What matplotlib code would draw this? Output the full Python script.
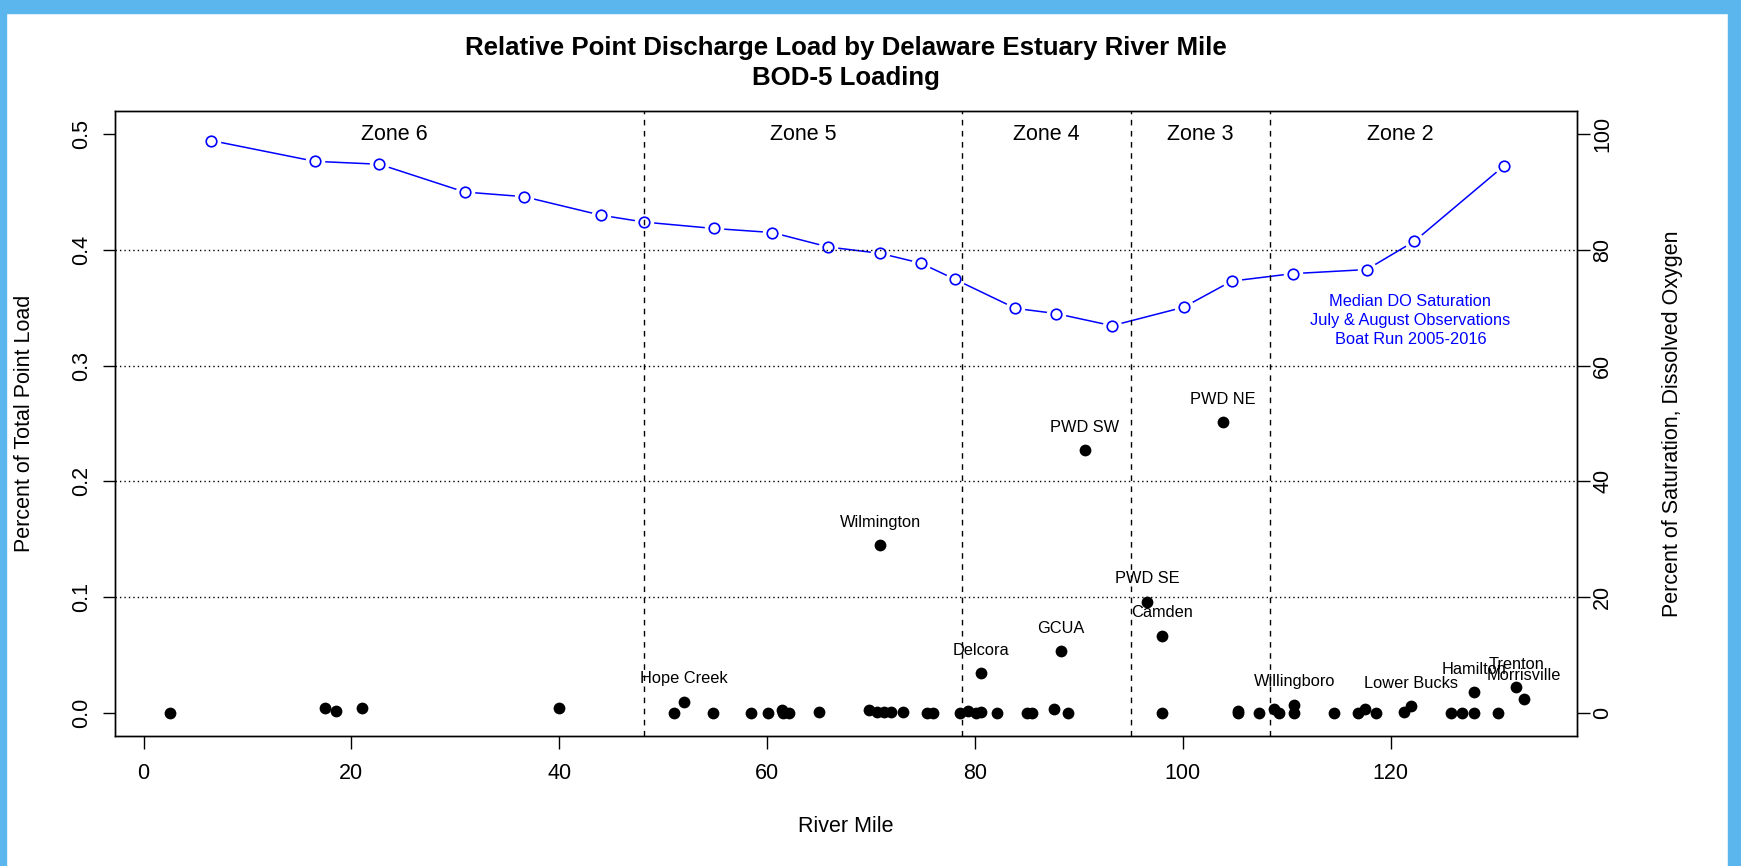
import matplotlib
matplotlib.use('Agg')
import matplotlib.pyplot as plt
from matplotlib.patches import Rectangle

plt.rcParams['font.family'] = ['Liberation Sans', 'DejaVu Sans']

# point discharge BOD-5 load (fraction of total) by river mile
load_mile = [2.5, 17.5, 18.5, 21.0, 40.0,
             51.0, 52.0, 54.8, 58.5, 60.1, 61.4, 61.5, 62.1, 65.0, 69.8, 70.6,
             70.9, 71.3, 71.9, 73.1, 75.4, 76.0,
             78.6, 79.3, 80.1, 80.6, 80.6, 82.1, 85.0, 85.5, 87.6, 88.3, 89.0,
             90.6, 96.6, 98.0, 98.0, 103.9, 105.3, 105.3, 107.3,
             108.8, 109.3, 110.75, 110.75, 114.6, 116.9, 117.5, 118.6, 121.3,
             122.0, 125.8, 126.9, 128.0, 128.0, 130.3, 132.1, 132.8]
load_frac = [0.0, 0.004, 0.0017, 0.004, 0.004,
             0.0, 0.0098, 0.0, 0.0, 0.0, 0.0028, 0.0, 0.0, 0.001, 0.0027, 0.0007,
             0.145, 0.001, 0.0007, 0.001, 0.0, 0.0,
             0.0, 0.0012, 0.0, 0.001, 0.034, 0.0, 0.0, 0.0, 0.003, 0.0535, 0.0,
             0.227, 0.096, 0.0665, 0.0, 0.251, 0.0, 0.0018, 0.0,
             0.003, 0.0, 0.0069, 0.0, 0.0, 0.0, 0.003, 0.0, 0.0006,
             0.0058, 0.0, 0.0, 0.0, 0.0178, 0.0, 0.0222, 0.0121]

# labelled dischargers
label_names = ['Hope Creek', 'Wilmington', 'Delcora', 'GCUA', 'PWD SW', 'PWD SE',
               'Camden', 'PWD NE', 'Willingboro', 'Lower Bucks', 'Hamilton',
               'Trenton', 'Morrisville']
label_mile = [52.0, 70.9, 80.6, 88.3, 90.6, 96.6, 98.0, 103.9, 110.75, 122.0,
              128.0, 132.1, 132.8]
label_frac = [0.0098, 0.145, 0.034, 0.0535, 0.227, 0.096, 0.0665, 0.251, 0.0069,
              0.0058, 0.0178, 0.0222, 0.0121]

# median DO saturation, boat run
do_mile = [6.5, 16.5, 22.7, 30.9, 36.6, 44.0, 48.2, 54.9, 60.5, 65.9, 70.9,
           74.8, 78.1, 83.9, 87.8, 93.2, 100.1, 104.7, 110.6, 117.7, 122.3, 130.9]
do_pct = [98.9, 95.3, 94.8, 90.0, 89.2, 86.0, 84.8, 83.7, 83.0, 80.5, 79.4,
          77.7, 74.9, 69.9, 69.0, 66.9, 70.1, 74.6, 75.9, 76.6, 81.5, 94.5]

zone_bounds = [48.2, 78.8, 95.0, 108.4]
zone_names = ['Zone 6', 'Zone 5', 'Zone 4', 'Zone 3', 'Zone 2']
zone_label_mile = [24.1, 63.5, 86.9, 101.7, 120.9]
grid_frac = [0.1, 0.2, 0.3, 0.4]

fig = plt.figure(figsize=(17.41, 8.66), dpi=100)

# slide frame around the plot
for (x0, y0, w, h) in [(0, 1 - 13 / 866, 1, 13 / 866), (0, 0, 6 / 1741, 1),
                       (1 - 13 / 1741, 0, 13 / 1741, 1)]:
    fig.patches.append(Rectangle((x0, y0), w, h, transform=fig.transFigure,
                                 color='#5bb6ee', zorder=0))

ax = fig.add_axes([0.06634, 0.15012, 0.83923, 0.7217])
ax2 = ax.twinx()
ax.set_zorder(ax2.get_zorder() + 1)
ax.patch.set_visible(False)

# DO saturation on right axis, type "b" style (gaps round the circles)
ax2.plot(do_mile, do_pct, color='blue', lw=1.1, zorder=1)
ax2.plot(do_mile, do_pct, 'o', ms=13, mfc='white', mec='white', zorder=2)
ax2.plot(do_mile, do_pct, 'o', ms=7.6, mfc='white', mec='blue', mew=1.2, zorder=3)
ax2.text(121.9, 67.8, 'Median DO Saturation\nJuly & August Observations\nBoat Run 2005-2016',
         color='blue', ha='center', va='center', fontsize=11.8, linespacing=1.3)

for g in grid_frac:
    ax.axhline(g, color='black', lw=1, linestyle=(0, (1, 2.2)), zorder=1)
for b in zone_bounds:
    ax.axvline(b, color='black', lw=1, linestyle=(0, (4, 4)), zorder=1)
for name, xm in zip(zone_names, zone_label_mile):
    ax.text(xm, 0.5, name, ha='center', va='center', fontsize=15.5)

ax.scatter(load_mile, load_frac, s=72, color='black', linewidths=0, zorder=3)
for name, xm, yv in zip(label_names, label_mile, label_frac):
    ax.annotate(name, (xm, yv), xytext=(0, 16.5), textcoords='offset points',
                ha='center', va='center', fontsize=11.8)

ax.set_xlim(-2.7, 137.9)
ax.set_ylim(-0.02, 0.52)
ax2.set_ylim(-4, 104)
ax.set_xticks([0, 20, 40, 60, 80, 100, 120])
ax.set_yticks([0.0, 0.1, 0.2, 0.3, 0.4, 0.5])
ax.set_yticklabels(['0.0', '0.1', '0.2', '0.3', '0.4', '0.5'])
ax2.set_yticks([0, 20, 40, 60, 80, 100])

ax.tick_params(axis='x', direction='out', length=9, width=1, labelsize=15.5, pad=10.5)
ax.tick_params(axis='y', direction='out', length=9, width=1, labelsize=15.5, pad=7.8)
ax2.tick_params(axis='y', direction='out', length=9, width=1, labelsize=15.5, pad=2.2)
plt.setp(ax.get_yticklabels(), rotation=90, va='center')
plt.setp(ax2.get_yticklabels(), rotation=90, va='center')
for a in (ax, ax2):
    for s in a.spines.values():
        s.set_linewidth(1.0)

ax.set_xlabel('River Mile', fontsize=15.5, va='center')
ax.xaxis.set_label_coords(0.5, -0.1456)
ax.set_ylabel('Percent of Total Point Load', fontsize=15.5, va='center')
ax.yaxis.set_label_coords(-0.0624, 0.5)
ax2.set_ylabel('Percent of Saturation, Dissolved Oxygen', fontsize=15.5, va='center',
               rotation=90)
ax2.yaxis.set_label_coords(1.0655, 0.5)

ax.set_title('Relative Point Discharge Load by Delaware Estuary River Mile\nBOD-5 Loading',
             fontsize=18.6, fontweight='bold', linespacing=1.3, pad=19)

fig.savefig('out.png', dpi=100)
